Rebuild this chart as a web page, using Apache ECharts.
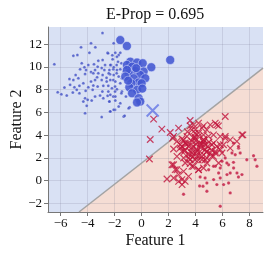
<!DOCTYPE html>
<html><head><meta charset="utf-8">
<script src="https://cdn.jsdelivr.net/npm/echarts@6/dist/echarts.min.js"></script>
<style>html,body{margin:0;padding:0;background:#fff}#c{width:269px;height:255px}</style>
</head><body><div id="c"></div><script>
const titleText = 'E-Prop = 0.695';
const xName = 'Feature 1';
const yName = 'Feature 2';
const xTicks = [-6,-4,-2,0,2,4,6,8];
const yTicks = [-2,0,2,4,6,8,10,12];
const xRange = [-6.94, 9.0];
const yRange = [-2.76, 13.52];
const boundary = [[-4.64,-2.76],[9.0,9.9]];
const blueSmall = [
[-2.9,13.0],[-6.47,10.24],[-4.49,11.73],[-3.75,12.08],[-3.43,11.73],[-3.87,11.26],[-5.06,11.0],[-4.76,11.06],
[-2.07,12.08],[-2.52,11.26],[-2.17,11.03],[-4.44,10.33],[-4.24,9.98],[-4.56,9.8],[-3.95,10.18],[-3.53,10.24],
[-3.21,10.56],[-2.89,10.62],[-2.71,10.18],[-2.27,10.18],[-1.85,10.18],[-4.12,9.74],[-3.75,9.57],[-3.45,9.74],
[-3.26,10.03],[-2.96,9.92],[-2.76,9.74],[-2.39,9.74],[-2.1,9.8],[-4.89,9.3],[-5.35,8.95],[-5.06,8.86],
[-4.69,9.01],[-4.19,9.39],[-3.58,9.45],[-3.21,9.45],[-2.89,9.3],[-2.34,9.36],[-1.85,9.45],[-4.32,8.57],
[-3.75,8.72],[-3.45,8.86],[-2.96,8.86],[-2.59,8.72],[-2.1,8.86],[-5.72,8.19],[-5.3,8.43],[-4.98,8.22],
[-4.61,8.34],[-3.95,8.22],[-3.58,8.37],[-3.26,8.28],[-2.84,8.34],[-2.47,8.34],[-1.97,8.28],[-6.22,7.78],
[-5.55,7.49],[-4.81,7.99],[-4.61,7.7],[-4.15,7.9],[-3.63,7.99],[-2.91,7.84],[-2.47,7.84],[-1.97,7.84],
[-4.19,7.26],[-4.32,6.96],[-4.0,7.11],[-3.7,7.05],[-3.45,7.4],[-3.08,7.49],[-2.84,7.26],[-2.52,7.46],
[-2.1,7.4],[-4.07,6.58],[-2.39,6.96],[-1.97,6.23],[-2.34,6.09],[-4.19,5.94],[-2.96,5.59],[-1.33,5.64],
[-0.89,6.46],[-2.49,11.2],[-1.95,11.26],[-1.7,11.06],[-1.58,11.26],[-1.83,10.91],[-2.15,10.68],[-1.75,10.47],
[-1.5,10.33],[-2.32,10.18],[-2.07,9.98],[-1.83,9.74],[-1.58,9.8],[-1.33,9.6],[-2.44,9.45],[-2.07,9.3],
[-1.7,9.16],[-1.46,9.01],[-2.32,8.86],[-1.95,8.72],[-1.58,8.57],[-2.2,8.13],[-1.83,8.05],[-1.46,7.84],
[-2.32,7.55],[-1.95,7.4],[-1.5,7.69],[-1.16,7.4],[-2.39,6.96],[-1.95,7.05],[-1.58,6.82],[-1.7,6.52],
[-0.96,6.38],[-2.07,6.23],[-2.32,6.09],[-1.26,5.71],[-5.95,7.6],[-5.1,7.75],[-3.3,9.1],[-2.6,9.05]
];
const blueLarge = [
[-1.58,12.37],[-1.09,11.85],[2.12,10.62],[-0.84,10.47],[-0.34,10.39],[0.08,10.33],[-1.09,10.18],[-0.71,10.03],
[0.72,9.98],[-0.47,9.68],[0.15,9.6],[-0.96,9.45],[-0.1,9.3],[-0.59,9.01],[0.27,9.01],[-0.22,8.63],
[-0.76,8.57],[0.0,8.57],[-0.91,8.22],[-0.34,7.99],[-0.71,7.69],[-0.22,7.26],[-0.1,6.96],[-0.34,6.88],
[-1.09,9.74],[-1.21,9.16],[-0.4,9.9],[-1.0,8.8],[0.05,8.1]
];
const blueHighlight = [[0.82,6.17]];
const redCross = [
[0.89,5.41],[1.5,4.53],[2.12,4.24],[2.74,4.62],[0.64,3.62],[0.58,1.9],[3.6,5.29],[3.85,4.91],
[4.22,5.06],[4.59,4.82],[4.84,4.47],[5.09,4.91],[5.46,5.06],[5.7,4.82],[6.2,5.64],[7.43,4.03],
[3.6,4.82],[3.73,4.47],[3.97,4.18],[3.36,3.89],[3.11,3.59],[3.85,3.74],[4.22,3.89],[4.59,4.03],
[4.96,3.89],[5.33,4.03],[5.83,3.89],[6.2,3.74],[6.57,3.59],[7.06,3.45],[2.86,3.16],[3.48,3.3],
[3.85,3.01],[4.34,3.3],[4.71,3.16],[5.21,3.16],[5.58,3.01],[6.07,3.16],[6.57,2.86],[3.6,2.57],
[3.97,2.42],[4.34,2.57],[4.71,2.72],[5.09,2.42],[5.46,2.57],[5.83,2.72],[3.11,1.99],[3.6,1.84],
[4.1,2.13],[4.47,1.84],[4.84,1.99],[5.33,2.13],[2.25,1.4],[2.62,0.96],[3.11,0.82],[3.85,1.26],
[4.22,0.96],[4.84,1.55],[1.88,0.14],[2.37,0.23],[2.74,-0.06],[3.0,-0.35],[2.37,2.78],[2.62,2.13],
[2.3,3.74],[2.99,2.57],[2.37,3.89],[2.62,3.45],[2.99,3.66],[3.23,3.31],[2.86,2.87],[3.18,2.58],
[3.48,3.01],[3.73,3.45],[3.97,3.74],[4.22,4.18],[4.47,4.62],[3.73,2.43],[4.1,2.72],[4.34,3.16],
[4.59,3.6],[3.48,1.99],[3.97,1.84],[4.47,2.14],[3.23,1.55],[3.73,1.26],[2.37,1.4],[2.49,0.97],
[2.74,0.53],[2.99,0.09],[3.23,-0.06],[3.48,0.38],[4.22,0.97],[4.59,1.11],[5.58,4.91],[6.2,3.89],
[7.51,4.03],[4.6,3.6],[5.34,3.3],[5.83,3.16],[4.84,2.57],[5.46,2.43],[5.96,2.43],[4.72,1.84],
[5.21,2.13],[5.71,1.55],[3.3,3.2],[3.7,2.9],[4.0,3.5],[4.4,2.9],[4.1,2.6],[3.5,2.3],
[4.6,3.4],[3.9,3.9],[4.8,2.5],[3.2,2.7],[4.3,2.2],[3.8,2.1],[4.5,3.2],[5.0,3.4],
[3.4,4.3],[4.0,4.5],[5.2,2.7],[3.0,3.0],[4.2,1.8],[3.6,1.5],[4.9,3.0],[4.05,3.2]
];
const redDots = [
[6.82,3.3],[7.19,2.86],[7.31,2.43],[6.94,2.28],[6.7,2.43],[8.3,2.19],[8.42,1.84],[7.8,1.84],
[8.55,1.26],[6.2,1.99],[5.96,1.7],[6.45,1.4],[5.46,1.26],[5.83,1.11],[4.97,0.96],[5.71,0.67],
[6.82,1.11],[7.07,0.67],[7.44,0.53],[6.57,0.67],[6.33,0.53],[5.83,0.23],[5.34,0.09],[4.84,-0.21],
[4.55,-0.5],[5.58,-0.35],[6.08,-0.35],[6.45,-0.21],[4.84,-0.94],[6.57,-1.08],[5.83,-2.25],[3.11,-1.2],
[4.3,-0.47],[4.71,0.23],[4.34,0.32],[7.18,0.32],[7.18,3.01],[5.33,1.26],[6.32,1.55],[6.81,1.61]
];

const redRegion = [boundary[0], boundary[1], [xRange[1], yRange[0]]];
const fmt = v => (v < 0 ? '\u2212' + (-v) : String(v));
const font = 'Liberation Serif';
const red = '#c0143c';

const chart = echarts.init(document.getElementById('c'), null, {renderer: 'canvas'});
chart.setOption({
  animation: false,
  title: {text: titleText, left: 101, top: 2, textStyle: {fontFamily: font, fontSize: 16, fontWeight: 'normal', color: '#111'}},
  grid: {left: 48, right: 6, top: 27, bottom: 43, show: true, backgroundColor: '#d9e1f4', borderWidth: 0, containLabel: false, outerBoundsMode: 'none'},
  xAxis: {
    type: 'value', min: xRange[0], max: xRange[1], z: 3,
    name: xName, nameLocation: 'middle', nameGap: 21, nameMoveOverlap: false,
    nameTextStyle: {fontFamily: font, fontSize: 16, color: '#111'},
    axisLine: {onZero: false, lineStyle: {color: '#777', width: 1}},
    axisTick: {show: true, length: 4, lineStyle: {color: '#777'}, customValues: xTicks},
    axisLabel: {fontFamily: font, fontSize: 13, color: '#111', margin: 5, formatter: fmt, customValues: xTicks},
    splitLine: {show: true, lineStyle: {color: 'rgba(110,110,140,0.18)', width: 1}}
  },
  yAxis: {
    type: 'value', min: yRange[0], max: yRange[1], z: 3,
    name: yName, nameLocation: 'middle', nameGap: 23, nameMoveOverlap: false,
    nameTextStyle: {fontFamily: font, fontSize: 16, color: '#111'},
    axisLine: {onZero: false, lineStyle: {color: '#777', width: 1}},
    axisTick: {show: true, length: 4, lineStyle: {color: '#777'}, customValues: yTicks},
    axisLabel: {fontFamily: font, fontSize: 13, color: '#111', margin: 6, formatter: fmt, customValues: yTicks},
    splitLine: {show: true, lineStyle: {color: 'rgba(110,110,140,0.18)', width: 1}}
  },
  series: [
    {type: 'custom', z: 1, silent: true, data: [[0, 0]],
     renderItem: (params, api) => ({type: 'polygon', shape: {points: redRegion.map(p => api.coord(p))}, style: {fill: '#f5ddd4'}})},
    {type: 'line', z: 4, data: boundary, symbol: 'none', silent: true, lineStyle: {color: '#a3a3a3', width: 1.5}},
    {type: 'scatter', z: 5, data: blueSmall, symbol: 'circle', symbolSize: 3, itemStyle: {color: '#3f4fc4', borderColor: 'rgba(255,255,255,0.5)', borderWidth: 0.5}},
    {type: 'scatter', z: 6, data: blueLarge, symbol: 'circle', symbolSize: 9, itemStyle: {color: '#4257d2', opacity: 0.88, borderColor: 'rgba(230,235,255,0.8)', borderWidth: 0.7}},
    {type: 'scatter', z: 5, data: redDots, symbol: 'circle', symbolSize: 3.4, itemStyle: {color: red, borderColor: 'rgba(255,255,255,0.5)', borderWidth: 0.5}},
    {type: 'scatter', z: 5, data: redCross, symbol: 'path://M0,0L10,10M10,0L0,10', symbolSize: 6.5, itemStyle: {color: 'rgba(0,0,0,0)', borderColor: red, borderWidth: 1.2}},
    {type: 'scatter', z: 7, data: blueHighlight, symbol: 'path://M0,0L10,10M10,0L0,10', symbolSize: 12, itemStyle: {color: 'rgba(0,0,0,0)', borderColor: 'rgba(80,100,225,0.85)', borderWidth: 2}}
  ]
});
</script></body></html>
